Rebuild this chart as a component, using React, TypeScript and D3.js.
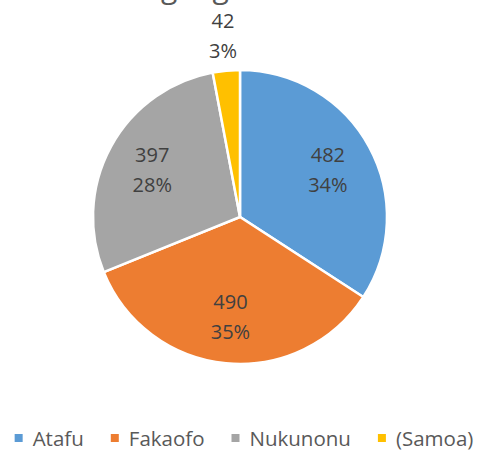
import { useEffect, useRef } from 'react';
import * as d3 from 'd3';

const categories = ['Atafu', 'Fakaofo', 'Nukunonu', '(Samoa)'];
const values = [482, 490, 397, 42];
const colors = ['#5B9BD5', '#ED7D31', '#A5A5A5', '#FFC000'];
const title = 'Language at home';

const W = 477;
const H = 452;

export default function App() {
  const legendRef = useRef<SVGGElement>(null);

  const cx = 240;
  const cy = 217;
  const radius = 147;
  const total = d3.sum(values);

  const pie = d3.pie<number>().sort(null).value(d => d);
  const arcs = pie(values);
  const arc = d3.arc<d3.PieArcDatum<number>>().innerRadius(0).outerRadius(radius);
  const insideLabel = d3.arc<d3.PieArcDatum<number>>().innerRadius(100).outerRadius(100);
  const outsideLabel = d3.arc<d3.PieArcDatum<number>>().innerRadius(182).outerRadius(182);

  // legend: measure text and center the row
  useEffect(() => {
    if (!legendRef.current) return;
    const g = d3.select(legendRef.current);
    g.selectAll('*').remove();
    const items = g.selectAll('g').data(categories).join('g');
    items.append('rect')
      .attr('width', 8).attr('height', 8)
      .attr('y', -4)
      .attr('fill', (_, i) => colors[i]);
    items.append('text')
      .attr('x', 18)
      .attr('dominant-baseline', 'central')
      .style('font-family', '"Open Sans", sans-serif')
      .style('font-size', '20.5px')
      .style('fill', '#595959')
      .text(d => d);
    const widths: number[] = [];
    items.each(function () {
      const t = d3.select(this).select('text').node() as SVGTextElement;
      widths.push(18 + t.getComputedTextLength());
    });
    const gap = 27;
    const totalW = d3.sum(widths) + gap * (widths.length - 1);
    let x = cx + 4 - totalW / 2;
    items.attr('transform', (_, i) => {
      const tx = x;
      x += widths[i] + gap;
      return `translate(${tx},0)`;
    });
  }, []);

  return (
    <div style={{ position: 'absolute', left: 0, top: 0 }}>
      <svg width={W} height={H} style={{ display: 'block', background: '#fff' }}>
        <text
          x={cx}
          y={-2}
          textAnchor="middle"
          style={{ fontFamily: '"Open Sans", sans-serif', fontSize: 30, fill: '#595959' }}
        >
          {title}
        </text>
        <g transform={`translate(${cx},${cy})`}>
          {arcs.map((a, i) => (
            <path key={categories[i]} d={arc(a) || ''} fill={colors[i]} stroke="#fff" strokeWidth={2.5} />
          ))}
          {arcs.map((a, i) => {
            const frac = a.value / total;
            const [lx, ly] = frac < 0.05 ? outsideLabel.centroid(a) : insideLabel.centroid(a);
            return (
              <g key={'l' + i} style={{ fontFamily: '"Open Sans", sans-serif', fontSize: 20, fill: '#404040' }}>
                <text x={lx} y={ly - 15} textAnchor="middle" dominantBaseline="central">
                  {a.value}
                </text>
                <text x={lx} y={ly + 15} textAnchor="middle" dominantBaseline="central">
                  {Math.round(frac * 100)}%
                </text>
              </g>
            );
          })}
        </g>
        <g ref={legendRef} transform="translate(0,438)" />
      </svg>
    </div>
  );
}
